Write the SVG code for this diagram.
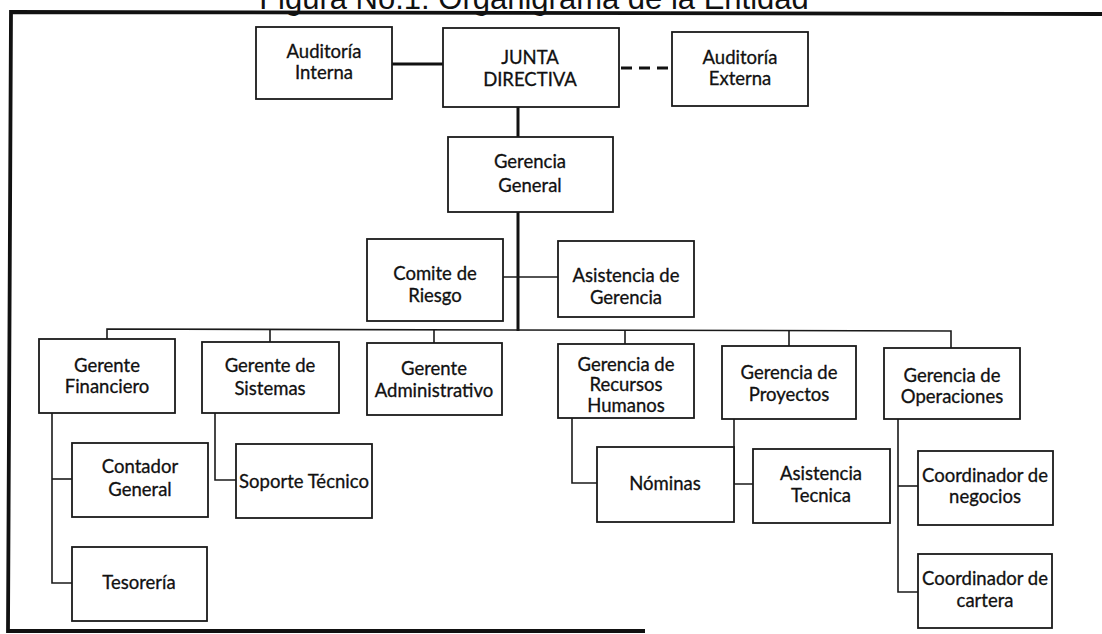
<svg xmlns="http://www.w3.org/2000/svg" width="1102" height="634" viewBox="0 0 1102 634">
<style>
.box{fill:#fff;stroke:#1a1a1a;stroke-width:1.8}
.t{font-family:Lato,"Liberation Sans",sans-serif;font-size:18.5px;fill:#111;stroke:#111;stroke-width:0.3;text-anchor:middle}
.c{fill:none;stroke:#1a1a1a;stroke-width:1.6}
.thick{fill:none;stroke:#111;stroke-width:3}
.frame{fill:none;stroke:#111;stroke-width:3.8}
.title{font-family:"Liberation Sans",Arial,sans-serif;font-size:31px;fill:#111;text-anchor:middle}
</style>
<rect width="1102" height="634" fill="#fff"/>
<text class="title" x="534" y="9">Figura No.1: Organigrama de la Entidad</text>
<g id="frame">
<polyline class="frame" points="1102,14 11,12 8,631 645,631"/>
</g>
<g id="connectors">
<line class="thick" x1="392" y1="64" x2="443" y2="64"/>
<line class="thick" x1="621" y1="68" x2="672" y2="68" stroke-dasharray="11 7"/>
<line class="thick" x1="518" y1="107" x2="518" y2="137"/>
<line class="thick" x1="518" y1="212" x2="518" y2="331"/>
<line class="c" x1="503" y1="277" x2="558" y2="277"/>
<polyline class="c" points="107,339 107,329 951,331 951,348"/>
<line class="c" x1="270" y1="329" x2="270" y2="342"/>
<line class="c" x1="434" y1="330" x2="434" y2="343"/>
<line class="c" x1="625" y1="330" x2="625" y2="344"/>
<line class="c" x1="789" y1="331" x2="789" y2="346"/>
<polyline class="c" points="52,413 52,583 72,583"/>
<line class="c" x1="52" y1="479" x2="72" y2="479"/>
<polyline class="c" points="215,413 215,480 236,480"/>
<polyline class="c" points="572,418 572,483 597,483"/>
<polyline class="c" points="734,419 734,484 753,484"/>
<polyline class="c" points="898,419 898,592 918,592"/>
<line class="c" x1="898" y1="486" x2="918" y2="486"/>
</g>
<g id="auditoria-interna"><rect class="box" x="256" y="27" width="136" height="72"/><text class="t" x="324" y="58">Auditoría</text><text class="t" x="324" y="79">Interna</text></g>
<g id="junta-directiva"><rect class="box" x="443" y="28" width="176" height="79"/><text class="t" x="530" y="64">JUNTA</text><text class="t" x="530" y="86">DIRECTIVA</text></g>
<g id="auditoria-externa"><rect class="box" x="672" y="32" width="136" height="74"/><text class="t" x="740" y="64">Auditoría</text><text class="t" x="740" y="85">Externa</text></g>
<g id="gerencia-general"><rect class="box" x="448" y="137" width="165" height="75"/><text class="t" x="530" y="168">Gerencia</text><text class="t" x="530" y="192">General</text></g>
<g id="comite-riesgo"><rect class="box" x="367" y="239" width="136" height="82"/><text class="t" x="435" y="280">Comite de</text><text class="t" x="435" y="302">Riesgo</text></g>
<g id="asistencia-gerencia"><rect class="box" x="558" y="241" width="136" height="76"/><text class="t" x="626" y="282">Asistencia de</text><text class="t" x="626" y="304">Gerencia</text></g>
<g id="gerente-financiero"><rect class="box" x="39" y="339" width="136" height="74"/><text class="t" x="107" y="372">Gerente</text><text class="t" x="107" y="393">Financiero</text></g>
<g id="gerente-sistemas"><rect class="box" x="202" y="342" width="137" height="71"/><text class="t" x="270" y="372">Gerente de</text><text class="t" x="270" y="395">Sistemas</text></g>
<g id="gerente-administrativo"><rect class="box" x="367" y="343" width="135" height="72"/><text class="t" x="434" y="375">Gerente</text><text class="t" x="434" y="397">Administrativo</text></g>
<g id="gerencia-rrhh"><rect class="box" x="558" y="344" width="136" height="74"/><text class="t" x="626" y="371">Gerencia de</text><text class="t" x="626" y="391">Recursos</text><text class="t" x="626" y="412">Humanos</text></g>
<g id="gerencia-proyectos"><rect class="box" x="722" y="346" width="134" height="73"/><text class="t" x="789" y="379">Gerencia de</text><text class="t" x="789" y="401">Proyectos</text></g>
<g id="gerencia-operaciones"><rect class="box" x="884" y="348" width="136" height="71"/><text class="t" x="952" y="382">Gerencia de</text><text class="t" x="952" y="403">Operaciones</text></g>
<g id="contador-general"><rect class="box" x="72" y="443" width="136" height="74"/><text class="t" x="140" y="473">Contador</text><text class="t" x="140" y="496">General</text></g>
<g id="tesoreria"><rect class="box" x="72" y="547" width="135" height="74"/><text class="t" x="139" y="589">Tesorería</text></g>
<g id="soporte-tecnico"><rect class="box" x="236" y="444" width="136" height="74"/><text class="t" x="304" y="488">Soporte Técnico</text></g>
<g id="nominas"><rect class="box" x="597" y="447" width="137" height="75"/><text class="t" x="665" y="490">Nóminas</text></g>
<g id="asistencia-tecnica"><rect class="box" x="753" y="449" width="137" height="74"/><text class="t" x="821" y="480">Asistencia</text><text class="t" x="821" y="502">Tecnica</text></g>
<g id="coordinador-negocios"><rect class="box" x="918" y="451" width="135" height="74"/><text class="t" x="985" y="482">Coordinador de</text><text class="t" x="985" y="503">negocios</text></g>
<g id="coordinador-cartera"><rect class="box" x="918" y="554" width="134" height="74"/><text class="t" x="985" y="585">Coordinador de</text><text class="t" x="985" y="607">cartera</text></g>
</svg>
